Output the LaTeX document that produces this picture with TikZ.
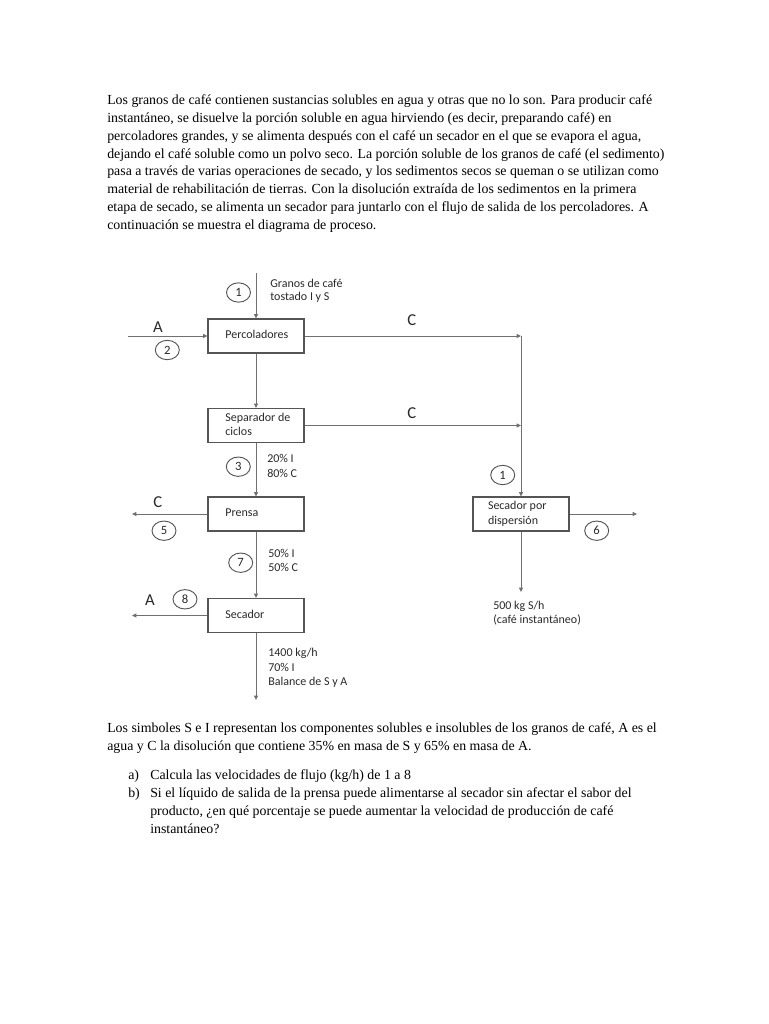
\documentclass[tikz,border=0pt]{standalone}
\usepackage{fontspec}
\setmainfont{Liberation Serif}
\newfontfamily\diagfont{Carlito}
\usetikzlibrary{arrows.meta,shapes.geometric}
\definecolor{ln}{HTML}{707070}
\definecolor{bx}{HTML}{555555}
\definecolor{tx}{HTML}{2A2A2A}
\newcommand{\bxt}[2][46pt]{\makebox[#1][l]{\begin{tabular}{@{}l@{}}#2\end{tabular}}}
\begin{document}
\begin{tikzpicture}[x=0.75pt,y=-0.75pt,
  body/.style={anchor=base west, inner sep=0, font=\fontsize{10.4}{12}\selectfont, text=black},
  proc/.style={draw=bx, line width=0.85pt, minimum width=72pt, minimum height=25.5pt, inner sep=0, font=\diagfont\fontsize{9}{11}\selectfont, text=tx},
  num/.style={draw=bx, ellipse, line width=0.7pt, minimum width=18pt, minimum height=14.5pt, inner sep=0, font=\diagfont\fontsize{9.5}{10}\selectfont, text=tx},
  lbl/.style={font=\diagfont\fontsize{12.5}{14}\selectfont, text=tx, inner sep=0},
  strm/.style={anchor=base west, inner sep=0, font=\diagfont\fontsize{9}{11}\selectfont, text=tx},
  flow/.style={draw=ln, line width=0.6pt},
  arr/.style={flow, -{Triangle[length=3.2pt,width=3pt]}}
]
\fill[white] (0,0) rectangle (768,1024);
\useasboundingbox (0,0) rectangle (768,1024);

% ---- introductory paragraph ----
\node[body] (t1) at (107,104.5) {Los granos de café contienen sustancias solubles en agua y otras que no lo son. Para producir café};
\node[body] (t2) at (107,122.4) {instantáneo, se disuelve la porción soluble en agua hirviendo (es decir, preparando café) en};
\node[body] (t3) at (107,140.2) {percoladores grandes, y se alimenta después con el café un secador en el que se evapora el agua,};
\node[body] (t4) at (107,158.1) {dejando el café soluble como un polvo seco. La porción soluble de los granos de café (el sedimento)};
\node[body] (t5) at (107,175.9) {pasa a través de varias operaciones de secado, y los sedimentos secos se queman o se utilizan como};
\node[body] (t6) at (107,193.8) {material de rehabilitación de tierras. Con la disolución extraída de los sedimentos en la primera};
\node[body] (t7) at (107,211.7) {etapa de secado, se alimenta un secador para juntarlo con el flujo de salida de los percoladores. A};
\node[body] (t8) at (107,229.5) {continuación se muestra el diagrama de proceso.};

% ---- process boxes ----
\node[proc] (perc) at (256,336) {\bxt{Percoladores}};
\node[proc] (sep) at (256,425.5) {\bxt{Separador de\\ciclos}};
\node[proc] (pren) at (256,514) {\bxt{Prensa}};
\node[proc] (sec) at (256,615.5) {\bxt{Secador}};
\node[proc] (disp) at (521,514) {\bxt[49.5pt]{Secador por\\dispersión}};

% ---- free ends ----
\coordinate (in1) at (256,273);
\coordinate (in2) at (128,336);
\coordinate (j1) at (perc.east -| disp.north);
\coordinate (j2) at (sep.east -| disp.north);
\coordinate (out5) at (132,514);
\coordinate (out8) at (132,615.5);
\coordinate (outb) at (256,700);
\coordinate (out6) at (637,514);
\coordinate (prod) at (521,592);

% ---- connectors ----
\draw[arr] (in1) -- (perc.north);
\draw[arr] (in2) -- (perc.west);
\draw[arr] (perc.east) -- (j1);
\draw[arr] (sep.east) -- (j2);
\draw[arr] (j1) -- (disp.north);
\draw[arr] (perc.south) -- (sep.north);
\draw[arr] (sep.south) -- (pren.north);
\draw[arr] (pren.south) -- (sec.north);
\draw[arr] (sec.south) -- (outb);
\draw[arr] (pren.west) -- (out5);
\draw[arr] (sec.west) -- (out8);
\draw[arr] (disp.east) -- (out6);
\draw[arr] (disp.south) -- (prod);

% ---- stream numbers ----
\node[num] (n1) at (238.5,292.5) {1};
\node[num] (n2) at (167.3,350) {2};
\node[num] (n3) at (238.3,466.7) {3};
\node[num] (n5) at (164,530.7) {5};
\node[num] (n7) at (240.7,562.7) {7};
\node[num] (n8) at (185,599.3) {8};
\node[num] (n1b) at (502.7,475) {1};
\node[num] (n6) at (596.7,530.7) {6};

% ---- stream letters ----
\node[lbl] (lA2) at (158,327) {A};
\node[lbl] (lC1) at (411.7,320) {C};
\node[lbl] (lC2) at (411.7,413.3) {C};
\node[lbl] (lC5) at (157.7,501.7) {C};
\node[lbl] (lA8) at (150,600) {A};

% ---- stream descriptions ----
\node[strm] (g1) at (270,287) {Granos de café};
\node[strm] (g2) at (270,300) {tostado I y S};
\node[strm] (s3a) at (267,462) {20\% I};
\node[strm] (s3b) at (267,477) {80\% C};
\node[strm] (s7a) at (268,557) {50\% I};
\node[strm] (s7b) at (268,571) {50\% C};
\node[strm] (sba) at (268,656) {1400 kg/h};
\node[strm] (sbb) at (268,671) {70\% I};
\node[strm] (sbc) at (268,685) {Balance de S y A};
\node[strm] (p1) at (493,609) {500 kg S/h};
\node[strm] (p2) at (493,623) {(café instantáneo)};

% ---- closing text ----
\node[body] (b1) at (107,732.5) {Los simboles S e I representan los componentes solubles e insolubles de los granos de café, A es el};
\node[body] (b2) at (107,750.3) {agua y C la disolución que contiene 35\% en masa de S y 65\% en masa de A.};
\node[body] (qa) at (128,779.5) {a)};
\node[body] (qat) at (150,779.5) {Calcula las velocidades de flujo (kg/h) de 1 a 8};
\node[body] (qb) at (128,797.3) {b)};
\node[body] (qbt1) at (150,797.3) {Si el líquido de salida de la prensa puede alimentarse al secador sin afectar el sabor del};
\node[body] (qbt2) at (150,815.2) {producto, ¿en qué porcentaje se puede aumentar la velocidad de producción de café};
\node[body] (qbt3) at (150,833) {instantáneo?};
\end{tikzpicture}
\end{document}
